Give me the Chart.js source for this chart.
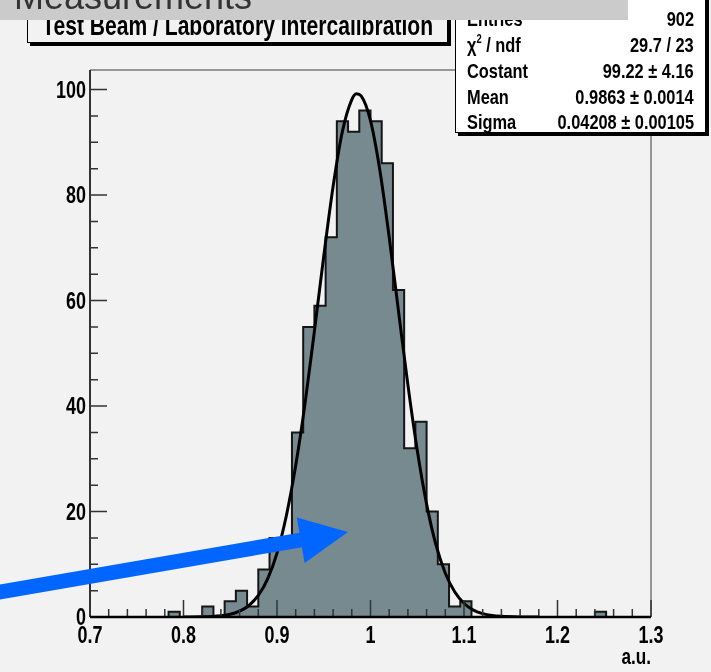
<!DOCTYPE html>
<html><head><meta charset="utf-8">
<script src="https://cdn.jsdelivr.net/npm/chart.js@4/dist/chart.umd.min.js"></script>
<style>
html,body{margin:0;padding:0;background:#f2f2f2;}
#wrap{position:relative;width:711px;height:672px;overflow:hidden;background:#f2f2f2;}
#c{position:absolute;left:0;top:0;}
.lib{font-family:'Liberation Sans',Arial,Helvetica,sans-serif;}
#banner{position:absolute;left:0;top:0;width:628px;height:20px;background:#cbcbcb;overflow:hidden;z-index:5;}
#banner span{position:absolute;left:14px;top:-21px;font:36px/36px 'Liberation Sans',Arial,sans-serif;color:#333;white-space:nowrap;}
#titlebox{position:absolute;left:27px;top:-10px;width:419px;height:51px;border:1.5px solid #000;box-shadow:3px 3px 0 #000;background:#f2f2f2;z-index:3;}
#titlebox .t{position:absolute;left:-60px;right:-60px;top:20.8px;text-align:center;font-size:28px;line-height:28px;font-weight:bold;color:#000;white-space:nowrap;}
#titlebox .t span{display:inline-block;transform:scaleX(0.753);transform-origin:center;}
#stats{position:absolute;left:455px;top:-5px;width:249px;height:136px;border:1.5px solid #000;box-shadow:3px 3px 0 #000;background:#fff;z-index:3;}
#stats .row{position:absolute;left:11px;right:11px;height:21px;font-size:21px;line-height:21px;font-weight:bold;color:#000;white-space:nowrap;}
#stats .row .l{position:absolute;left:0;transform:scaleX(0.78);transform-origin:left center;}
#stats .row .r{position:absolute;right:0;transform:scaleX(0.78);transform-origin:right center;}
#stats sup{font-size:12px;line-height:0;vertical-align:9px;}
#arrow{position:absolute;left:0;top:0;z-index:2;}
</style>
</head><body>
<div id="wrap">
<canvas id="c" width="711" height="672"></canvas>
<svg id="arrow" width="711" height="672" viewBox="0 0 711 672">
  <line x1="-12" y1="594" x2="301" y2="540" stroke="#0066ff" stroke-width="14.8"/>
  <polygon points="296.8,517.5 348,532 304.6,562.9" fill="#0066ff"/>
</svg>
<div id="titlebox" class="lib"><div class="t"><span>Test Beam / Laboratory Intercalibration</span></div></div>
<div id="stats" class="lib">
  <div class="row" style="top:12.2px"><span class="l">Entries</span><span class="r">902</span></div>
  <div class="row" style="top:38px"><span class="l">χ<sup>2</sup> / ndf</span><span class="r">29.7 / 23</span></div>
  <div class="row" style="top:63.8px"><span class="l">Costant</span><span class="r">99.22 ± 4.16</span></div>
  <div class="row" style="top:89.6px"><span class="l">Mean</span><span class="r">0.9863 ± 0.0014</span></div>
  <div class="row" style="top:115.4px"><span class="l">Sigma</span><span class="r">0.04208 ± 0.00105</span></div>
</div>
<div id="banner"><span>Measurements</span></div>
</div>
<script>
// ---- data ----
const binEdges = [0.700,0.712,0.724,0.736,0.748,0.760,0.772,0.784,0.796,0.808,0.820,0.832,0.844,0.856,0.868,0.880,0.892,0.904,0.916,0.928,0.940,0.952,0.964,0.976,0.988,1.000,1.012,1.024,1.036,1.048,1.060,1.072,1.084,1.096,1.108,1.120,1.132,1.144,1.156,1.168,1.180,1.192,1.204,1.216,1.228,1.240,1.252,1.264,1.276,1.288,1.300];
const counts = [0,0,0,0,0,0,0,1,0,0,2,0,3,5,2,9,15,15,35,55,59,72,94,92,96,94,86,62,32,37,20,10,2,3,0,0,0,0,0,0,0,0,0,0,0,1,0,0,0,0];
const fitX = [0.80,0.82,0.84,0.85,0.86,0.87,0.88,0.89,0.90,0.91,0.92,0.93,0.94,0.95,0.96,0.97,0.98,0.985,0.99,1.00,1.01,1.02,1.03,1.04,1.05,1.06,1.07,1.08,1.09,1.10,1.11,1.12,1.13,1.14,1.16,1.18];
const fitY = [0.01,0.04,0.24,0.52,1.10,2.18,4.08,7.23,12.1,19.2,28.7,40.5,54.2,68.4,81.6,92.1,98.1,99.2,98.8,94.1,84.7,72.0,57.9,44.0,31.6,21.4,13.7,8.3,4.8,2.6,1.3,0.64,0.29,0.13,0.02,0.0];
const xTickValues = [0.7,0.8,0.9,1.0,1.1,1.2,1.3];
const xTickLabels = ['0.7','0.8','0.9','1','1.1','1.2','1.3'];
const yTickValues = [0,20,40,60,80,100];
const yTickLabels = ['0','20','40','60','80','100'];
const xTitle = 'a.u.';

// ---- build datasets ----
const histPts = counts.map((c,i)=>({x:binEdges[i], y:c}));
histPts.push({x:binEdges[binEdges.length-1], y:counts[counts.length-1]});
const fitPts = fitX.map((x,i)=>({x, y:fitY[i]}));

const LABEL_FONT = "bold 23px 'Liberation Sans', Arial, sans-serif";
const SX = 0.78;

function drawText(ctx, text, x, y, align){
  ctx.save(); ctx.translate(x,y); ctx.scale(SX,1);
  ctx.textAlign = align; ctx.textBaseline = 'alphabetic';
  ctx.fillText(text, 0, 0); ctx.restore();
}

const bgPlugin = {
  id:'bg',
  beforeDraw(chart){
    const ctx = chart.ctx; ctx.save(); ctx.fillStyle='#f2f2f2';
    ctx.fillRect(0,0,chart.width,chart.height); ctx.restore();
  }
};
const framePlugin = {
  id:'frame',
  afterDatasetsDraw(chart){
    const {ctx, chartArea:{left,right,top,bottom}, scales:{x,y}} = chart;
    ctx.save();
    ctx.strokeStyle='#7a7a7a'; ctx.lineWidth=1.5;
    ctx.beginPath(); ctx.moveTo(left,top); ctx.lineTo(right,top); ctx.lineTo(right,bottom); ctx.stroke();
    ctx.strokeStyle='#333'; ctx.lineWidth=1.5;
    ctx.beginPath();
    for(let i=0;i<=30;i++){
      const px = x.getPixelForValue(0.7 + i*0.02);
      const len = (i%5===0) ? 17 : 8;
      ctx.moveTo(px,bottom); ctx.lineTo(px,bottom-len);
    }
    for(let i=0;i<=20;i++){
      const py = y.getPixelForValue(i*5);
      const len = (i%4===0) ? 17 : 8;
      ctx.moveTo(left,py); ctx.lineTo(left+len,py);
    }
    ctx.stroke();
    ctx.strokeStyle='#333'; ctx.lineWidth=2;
    ctx.beginPath(); ctx.moveTo(left,top); ctx.lineTo(left,bottom); ctx.stroke();
    ctx.strokeStyle='#000'; ctx.lineWidth=2.5;
    ctx.beginPath(); ctx.moveTo(left,bottom); ctx.lineTo(right,bottom); ctx.stroke();

    // tick labels (condensed) placed through the scales
    ctx.fillStyle='#000'; ctx.font = LABEL_FONT;
    x.ticks.forEach((t,i)=>{
      drawText(ctx, xTickLabels[i], x.getPixelForValue(t.value), bottom+26, 'center');
    });
    y.ticks.forEach((t,i)=>{
      drawText(ctx, yTickLabels[i], left-4, y.getPixelForValue(t.value)+8, 'right');
    });
    ctx.font = "bold 22px 'Liberation Sans', Arial, sans-serif";
    drawText(ctx, xTitle, right, bottom+47, 'right');
    ctx.restore();
  }
};

new Chart(document.getElementById('c'), {
  type:'line',
  data:{datasets:[
    {data:histPts, stepped:'before', fill:'origin', backgroundColor:'#768a90', borderColor:'#151515', borderWidth:2, pointRadius:0, order:2},
    {data:fitPts, borderColor:'#000', borderWidth:3, pointRadius:0, fill:false, cubicInterpolationMode:'monotone', order:1}
  ]},
  options:{
    responsive:false, animation:false, devicePixelRatio:1,
    layout:{padding:{left:0,top:70,right:60,bottom:0}},
    plugins:{legend:{display:false}, tooltip:{enabled:false}},
    scales:{
      x:{type:'linear', min:0.7, max:1.3,
        grid:{display:false, drawTicks:false}, border:{display:false},
        ticks:{display:false, autoSkip:false, callback:(v,i)=>xTickLabels[i]},
        afterBuildTicks:s=>{ s.ticks = xTickValues.map(v=>({value:v})); },
        afterFit:s=>{ s.height = 55; }
      },
      y:{min:0, max:103.7,
        grid:{display:false, drawTicks:false}, border:{display:false},
        ticks:{display:false, callback:(v,i)=>yTickLabels[i]},
        afterBuildTicks:s=>{ s.ticks = yTickValues.map(v=>({value:v})); },
        afterFit:s=>{ s.width = 90; }
      }
    }
  },
  plugins:[bgPlugin, framePlugin]
});
</script>
</body></html>
